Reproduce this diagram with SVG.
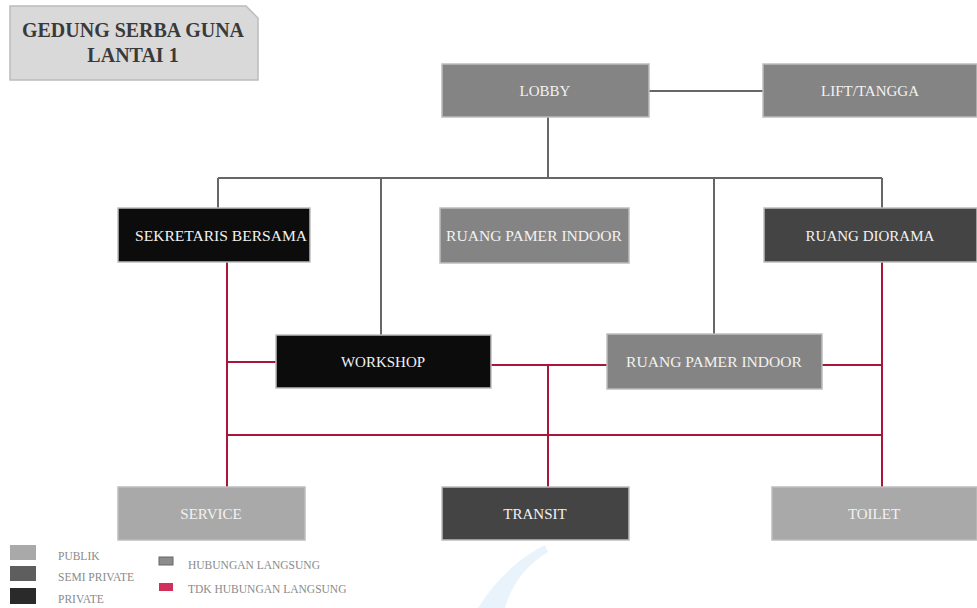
<svg xmlns="http://www.w3.org/2000/svg" width="977" height="608" viewBox="0 0 977 608">
<style>
.box{stroke:#bdbdbd;stroke-width:1.5}
.pub{fill:#a9a9a9}
.gry{fill:#848484}
.semi{fill:#444444}
.priv{fill:#0c0c0c}
.lbl{font-family:"Liberation Serif","DejaVu Serif",serif;font-size:15px;fill:#f2f2f2;text-anchor:middle}
.lg{fill:none;stroke:#676767;stroke-width:2}
.lr{fill:none;stroke:#a8173a;stroke-width:2}
.leg{font-family:"Liberation Serif","DejaVu Serif",serif;font-size:11.5px;fill:#8a8a8a}
</style>
<rect width="977" height="608" fill="#ffffff"/>
<path d="M478 608 Q 505 565 545 545 L 548 552 Q 515 572 505 608 Z" fill="#e2f0fa" opacity="0.8"/>
<g id="title">
<path d="M10 6 H246 L258 18 V80 H10 Z" fill="#d9d9d9" stroke="#bcbcbc" stroke-width="1.5"/>
<text x="133" y="37" font-family="Liberation Serif,DejaVu Serif,serif" font-size="20" font-weight="bold" fill="#3a3a3a" text-anchor="middle" textLength="222" lengthAdjust="spacingAndGlyphs">GEDUNG SERBA GUNA</text>
<text x="133" y="62" font-family="Liberation Serif,DejaVu Serif,serif" font-size="20" font-weight="bold" fill="#3a3a3a" text-anchor="middle">LANTAI 1</text>
</g>
<g id="connectors">
<path class="lg" d="M649 91 H763"/>
<path class="lg" d="M548 117 V178"/>
<path class="lg" d="M218 178 H882"/>
<path class="lg" d="M218 178 V208"/>
<path class="lg" d="M381 178 V335"/>
<path class="lg" d="M714 178 V334"/>
<path class="lg" d="M882 178 V208"/>
<path class="lr" d="M227 262 V487"/>
<path class="lr" d="M227 362 H276"/>
<path class="lr" d="M491 365 H607"/>
<path class="lr" d="M548 365 V487"/>
<path class="lr" d="M822 365 H882"/>
<path class="lr" d="M882 262 V487"/>
<path class="lr" d="M227 435 H882"/>
</g>
<g id="lobby"><rect class="box gry" x="442" y="64" width="207" height="53"/><text class="lbl" x="545" y="96">LOBBY</text></g>
<g id="lift"><rect class="box gry" x="763" y="64" width="214" height="53"/><text class="lbl" x="870" y="96">LIFT/TANGGA</text></g>
<g id="sekretaris"><rect class="box priv" x="118" y="208" width="192" height="54"/><text class="lbl" x="221" y="241" textLength="172" lengthAdjust="spacingAndGlyphs">SEKRETARIS BERSAMA</text></g>
<g id="pamer1"><rect class="box gry" x="440" y="208" width="189" height="55"/><text class="lbl" x="534" y="241" textLength="176" lengthAdjust="spacingAndGlyphs">RUANG PAMER INDOOR</text></g>
<g id="diorama"><rect class="box semi" x="764" y="208" width="213" height="54"/><text class="lbl" x="870" y="241">RUANG DIORAMA</text></g>
<g id="workshop"><rect class="box priv" x="276" y="335" width="215" height="53"/><text class="lbl" x="383" y="367">WORKSHOP</text></g>
<g id="pamer2"><rect class="box gry" x="607" y="334" width="215" height="55"/><text class="lbl" x="714" y="367" textLength="176" lengthAdjust="spacingAndGlyphs">RUANG PAMER INDOOR</text></g>
<g id="service"><rect class="box pub" x="118" y="487" width="187" height="53"/><text class="lbl" x="211" y="519">SERVICE</text></g>
<g id="transit"><rect class="box semi" x="442" y="487" width="187" height="53"/><text class="lbl" x="535" y="519">TRANSIT</text></g>
<g id="toilet"><rect class="box pub" x="772" y="487" width="205" height="53"/><text class="lbl" x="874" y="519">TOILET</text></g>
<g id="legend">
<rect x="10" y="545" width="26" height="15" fill="#a9a9a9"/>
<rect x="10" y="566" width="26" height="15" fill="#5e5e5e"/>
<rect x="10" y="588" width="26" height="16" fill="#2a2a2a"/>
<text class="leg" x="58" y="560">PUBLIK</text>
<text class="leg" x="58" y="581">SEMI PRIVATE</text>
<text class="leg" x="58" y="603">PRIVATE</text>
<rect x="159" y="557" width="14" height="8" fill="#8c8c8c" stroke="#666" stroke-width="1"/>
<rect x="159" y="583" width="14" height="8" fill="#d0305a"/>
<text class="leg" x="188" y="569">HUBUNGAN LANGSUNG</text>
<text class="leg" x="188" y="593">TDK HUBUNGAN LANGSUNG</text>
</g>
</svg>
